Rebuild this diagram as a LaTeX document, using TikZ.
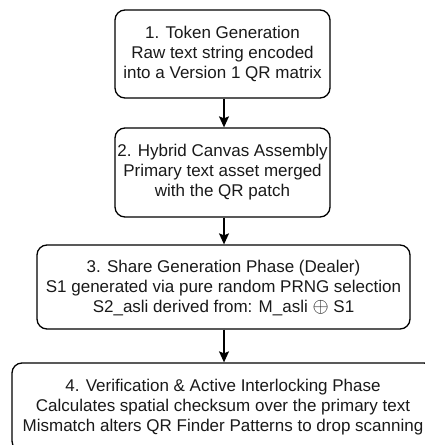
\documentclass[tikz,border=0pt]{standalone}
\usepackage{fontspec}
\setmainfont{Liberation Sans}
\usetikzlibrary{arrows.meta}
\begin{document}
\begin{tikzpicture}[x=1pt,y=1pt,
  boxstyle/.style={draw=black, line width=1.3pt, rounded corners=10pt, inner sep=0pt},
  txt/.style={align=center, font=\fontsize{17}{20}\selectfont, text=black!90, inner sep=0pt},
  arr/.style={draw=black, line width=1.3pt, -{Stealth[length=11pt,width=10pt,inset=2pt]}}]
\useasboundingbox (0,0) rectangle (425,-445);
% boxes
\node[boxstyle, minimum width=215pt, minimum height=88pt] (b1) at (222.5,-54) {};
\node[boxstyle, minimum width=215pt, minimum height=89pt] (b2) at (222.5,-172.5) {};
\node[boxstyle, minimum width=373pt, minimum height=84pt] (b3) at (223.5,-287) {};
\node[boxstyle, minimum width=422pt, minimum height=88pt] (b4) at (223,-407) {};
% texts
\node[txt] (t1) at (b1.center) {1. Token Generation\\Raw text string encoded\\into a Version 1 QR matrix};
\node[txt] (t2) at (b2.center) {2. Hybrid Canvas Assembly\\Primary text asset merged\\with the QR patch};
\node[txt] (t3) at ([yshift=-1pt]b3.center) {3. Share Generation Phase (Dealer)\\S1 generated via pure random PRNG selection\\S2\_asli derived from: M\_asli \smash{\fontsize{20}{20}\selectfont$\oplus$} S1};
\node[txt] (t4) at (b4.center) {4. Verification \& Active Interlocking Phase\\Calculates spatial checksum over the primary text\\Mismatch alters QR Finder Patterns to drop scanning};
% connectors
\draw[arr] ([xshift=1.5pt]b1.south) -- ([xshift=1.5pt]b2.north);
\draw[arr] ([xshift=1.5pt]b2.south) -- ([xshift=0.5pt]b3.north);
\draw[arr] ([xshift=0.5pt]b3.south) -- ([xshift=1pt]b4.north);
\end{tikzpicture}
\end{document}
